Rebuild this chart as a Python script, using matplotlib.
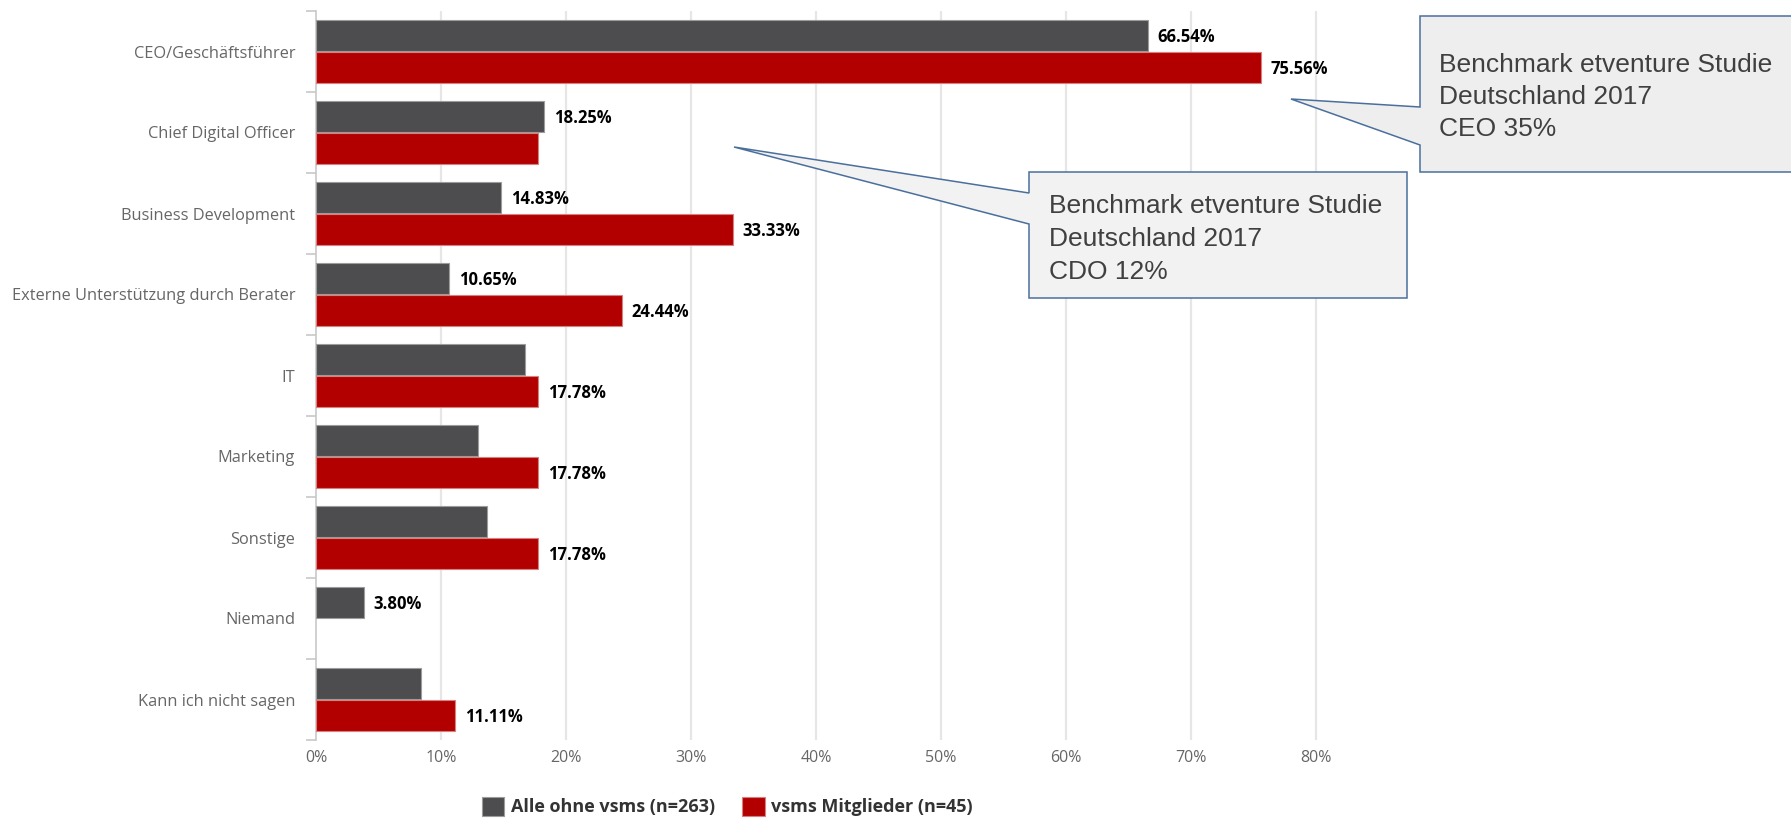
import numpy as np
import matplotlib
matplotlib.use("Agg")
import matplotlib.pyplot as plt
from matplotlib.patches import Polygon

plt.rcParams['font.family'] = ['Open Sans', 'DejaVu Sans']

categories = ['CEO/Geschäftsführer', 'Chief Digital Officer', 'Business Development',
              'Externe Unterstützung durch Berater', 'IT', 'Marketing', 'Sonstige',
              'Niemand', 'Kann ich nicht sagen']
alle_ohne = [66.54, 18.25, 14.83, 10.65, 16.73, 12.93, 13.69, 3.80, 8.37]
mitglieder = [75.56, 17.78, 33.33, 24.44, 17.78, 17.78, 17.78, 0.0, 11.11]
# which values get a data label
show_alle = [True, True, True, True, False, False, False, True, False]
show_mitgl = [True, False, True, True, True, True, True, False, True]
series_names = ['Alle ohne vsms (n=263)', 'vsms Mitglieder (n=45)']
xticks = [0, 10, 20, 30, 40, 50, 60, 70, 80]

GRAY = '#4d4d4f'
RED = '#b20000'

W, H = 1791, 818
fig = plt.figure(figsize=(W / 100, H / 100), dpi=100)
ax = fig.add_axes([316 / W, 78 / H, 1025 / W, 729 / H])

y = np.arange(len(categories))
b1 = ax.barh(y - 0.2, alle_ohne, height=0.38, color=GRAY, edgecolor='#9c9c9c',
             linewidth=[0.8 if v > 0 else 0 for v in alle_ohne], zorder=3,
             label=series_names[0])
b2 = ax.barh(y + 0.2, mitglieder, height=0.38, color=RED, edgecolor='#d88080',
             linewidth=[0.8 if v > 0 else 0 for v in mitglieder], zorder=3,
             label=series_names[1])

for vals, shows, off in [(alle_ohne, show_alle, -0.2), (mitglieder, show_mitgl, 0.2)]:
    for i, (v, s) in enumerate(zip(vals, shows)):
        if s:
            ax.annotate(f'{v:.2f}%', (v, i + off + 0.02), xytext=(7, 0),
                        textcoords='offset points', va='center', ha='left',
                        fontsize=12, fontweight='bold', color='#000000', zorder=5)

ax.set_xlim(0, 82)
ax.set_ylim(len(categories) - 0.5, -0.5)
ax.set_xticks(xticks)
ax.set_xticklabels([f'{t}%' for t in xticks])
ax.set_yticks(y)
ax.set_yticklabels(categories)
ax.set_yticks(np.arange(len(categories) + 1) - 0.5, minor=True)

ax.tick_params(axis='y', which='major', length=0, pad=15, labelsize=11.8, labelcolor='#666666')
ax.tick_params(axis='y', which='minor', length=7, width=1.2, color='#c8c8c8')
ax.tick_params(axis='x', length=0, pad=7, labelsize=11.5, labelcolor='#666666')

for x in xticks[1:]:
    ax.axvline(x, color='#e6e6e6', linewidth=1.6, zorder=1)

for side in ['top', 'right', 'bottom']:
    ax.spines[side].set_visible(False)
ax.spines['left'].set_color('#c8c8c8')
ax.spines['left'].set_linewidth(1.2)

fig.legend(handles=[b1, b2], loc='center', bbox_to_anchor=(0.406, 0.014), ncol=2,
           frameon=False, handlelength=1.25, handleheight=1.25, handletextpad=0.35,
           columnspacing=1.5, prop={'weight': 'bold', 'size': 13}, labelcolor='#333333')


def px(pts):
    return [(x / W, 1 - yy / H) for x, yy in pts]


# callout boxes with pointer wedges (figure pixel coordinates)
callouts = [
    ([(1420, 16), (1800, 16), (1800, 172), (1420, 172), (1420, 145), (1291, 99), (1420, 107)],
     '#eeeeee', 1439, [72, 104, 136],
     ['Benchmark etventure Studie', 'Deutschland 2017', 'CEO 35%']),
    ([(1029, 172), (1407, 172), (1407, 298), (1029, 298), (1029, 224), (734, 147), (1029, 193)],
     '#f2f2f2', 1049, [213, 246, 279],
     ['Benchmark etventure Studie', 'Deutschland 2017', 'CDO 12%']),
]
for pts, fill, tx, baselines, lines in callouts:
    fig.patches.append(Polygon(px(pts), closed=True, transform=fig.transFigure,
                               facecolor=fill, edgecolor='#4a6f9c', linewidth=1.1,
                               zorder=10))
    for yy, line in zip(baselines, lines):
        fig.text(tx / W, 1 - yy / H, line, family='Liberation Sans', fontsize=19,
                 color='#404040', ha='left', va='baseline', zorder=11)

fig.savefig('out.png', dpi=100, facecolor='white')
